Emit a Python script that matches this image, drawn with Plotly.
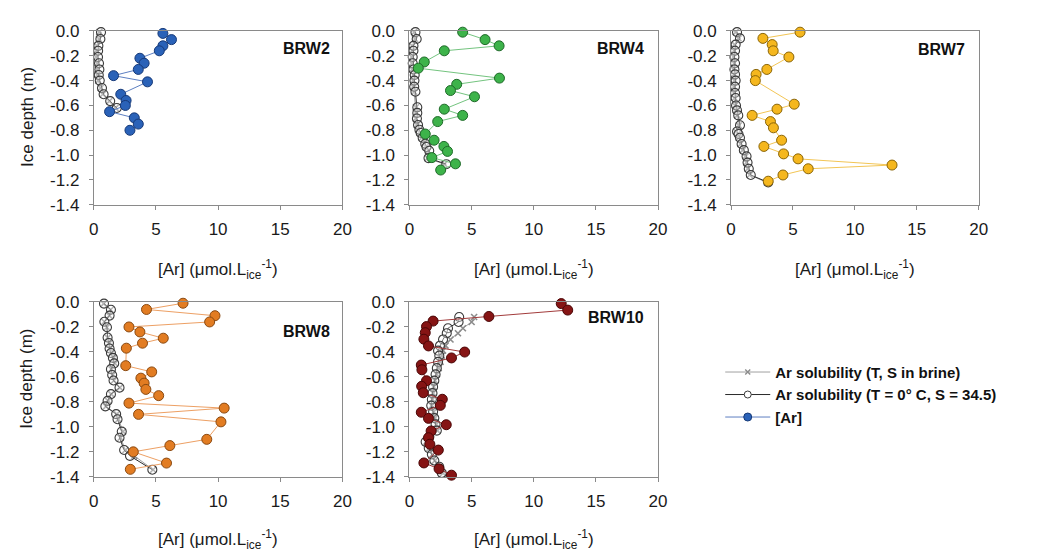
import plotly.graph_objects as go

# ---------------- data ----------------
panel_names = ["BRW2", "BRW4", "BRW7", "BRW8", "BRW10"]
x_ticks = [0, 5, 10, 15, 20]
y_ticks = [0.0, -0.2, -0.4, -0.6, -0.8, -1.0, -1.2, -1.4]
y_ticktext = ["0.0", "-0.2", "-0.4", "-0.6", "-0.8", "-1.0", "-1.2", "-1.4"]

# BRW2
ar_depth_2 = [-0.02, -0.07, -0.12, -0.16, -0.22, -0.26, -0.31, -0.36, -0.41, -0.51, -0.56, -0.60, -0.65, -0.70, -0.75, -0.80]
ar_2 = [5.56, 6.25, 5.56, 5.27, 3.71, 4.05, 3.58, 1.59, 4.32, 2.17, 2.60, 2.54, 1.27, 3.26, 3.58, 2.91]
sol_depth_2 = [-0.01, -0.065, -0.12, -0.16, -0.21, -0.26, -0.31, -0.355, -0.40, -0.46, -0.51, -0.565, -0.62]
sol0_2 = [0.58, 0.53, 0.37, 0.35, 0.34, 0.42, 0.45, 0.40, 0.48, 0.66, 0.79, 1.32, 1.85]
brine_2 = [0.45, 0.42, 0.25, 0.22, 0.20, 0.28, 0.30, 0.28, 0.35, 0.55, 0.72, 1.25, 1.75]

# BRW4
ar_depth_4 = [-0.01, -0.07, -0.12, -0.16, -0.25, -0.30, -0.38, -0.43, -0.48, -0.53, -0.63, -0.68, -0.73, -0.83, -0.88, -0.93, -0.97, -1.02, -1.07, -1.12]
ar_4 = [4.28, 6.08, 7.21, 2.80, 1.19, 0.71, 7.24, 3.80, 3.30, 5.23, 2.80, 4.28, 2.27, 1.27, 1.98, 2.77, 3.06, 1.80, 3.70, 2.51]
sol_depth_4 = [-0.01, -0.065, -0.12, -0.16, -0.21, -0.26, -0.31, -0.355, -0.40, -0.45, -0.49, -0.615, -0.66, -0.705, -0.757, -0.796, -0.822, -0.861, -0.908, -0.934, -0.965, -1.024, -1.073]
sol0_4 = [0.48, 0.58, 0.32, 0.32, 0.26, 0.26, 0.32, 0.42, 0.40, 0.38, 0.48, 0.63, 0.63, 0.60, 0.69, 0.80, 0.90, 1.06, 1.27, 1.37, 1.59, 1.53, 2.96]
brine_4 = [0.38, 0.45, 0.22, 0.22, 0.18, 0.18, 0.22, 0.32, 0.30, 0.30, 0.38, 0.52, 0.52, 0.50, 0.60, 0.70, 0.82, 0.98, 1.20, 1.30, 1.50, 1.45, 2.80]

# BRW7
ar_depth_7 = [-0.01, -0.06, -0.11, -0.16, -0.21, -0.31, -0.35, -0.40, -0.59, -0.63, -0.68, -0.73, -0.78, -0.88, -0.93, -0.99, -1.03, -1.08, -1.11, -1.16, -1.21]
ar_7 = [5.57, 2.57, 3.32, 3.40, 4.67, 2.89, 2.02, 1.96, 5.10, 3.71, 1.70, 3.18, 3.42, 4.08, 2.65, 4.24, 5.41, 13.0, 6.23, 4.19, 3.00]
sol_depth_7 = [-0.01, -0.06, -0.11, -0.16, -0.21, -0.26, -0.31, -0.35, -0.40, -0.45, -0.50, -0.54, -0.60, -0.64, -0.68, -0.76, -0.81, -0.83, -0.86, -0.91, -0.96, -1.01, -1.06, -1.11, -1.16, -1.22]
sol0_7 = [0.48, 0.72, 0.37, 0.32, 0.27, 0.32, 0.27, 0.32, 0.37, 0.32, 0.32, 0.37, 0.40, 0.48, 0.58, 0.72, 0.48, 0.60, 0.72, 0.85, 1.03, 1.25, 1.33, 1.43, 1.59, 3.00]
brine_7 = [0.38, 0.60, 0.28, 0.24, 0.20, 0.24, 0.20, 0.24, 0.28, 0.24, 0.24, 0.28, 0.32, 0.40, 0.50, 0.62, 0.40, 0.52, 0.62, 0.76, 0.94, 1.16, 1.24, 1.34, 1.50, 2.90]

# BRW8
ar_depth_8 = [-0.01, -0.06, -0.11, -0.16, -0.20, -0.24, -0.29, -0.33, -0.37, -0.51, -0.56, -0.61, -0.65, -0.70, -0.75, -0.81, -0.85, -0.90, -0.96, -1.10, -1.15, -1.20, -1.29, -1.34]
ar_8 = [7.18, 4.24, 9.75, 9.32, 2.83, 3.71, 5.59, 3.92, 2.62, 2.57, 4.66, 3.79, 4.05, 4.19, 5.22, 2.83, 10.49, 3.60, 10.23, 9.09, 6.12, 3.18, 5.85, 2.94]
sol_depth_8 = [-0.013, -0.062, -0.109, -0.158, -0.202, -0.285, -0.329, -0.373, -0.409, -0.448, -0.492, -0.538, -0.585, -0.629, -0.686, -0.738, -0.792, -0.836, -0.898, -0.939, -1.038, -1.087, -1.185, -1.232, -1.343]
sol0_8 = [0.82, 1.38, 1.27, 0.85, 1.06, 1.11, 1.22, 1.27, 1.38, 1.54, 1.64, 1.38, 1.48, 1.59, 2.07, 1.38, 1.11, 0.93, 1.80, 1.91, 2.25, 2.07, 2.44, 2.91, 4.71]
brine_8 = [0.80, 1.35, 1.25, 0.85, 1.05, 1.12, 1.25, 1.30, 1.42, 1.60, 1.70, 1.42, 1.52, 1.62, 2.10, 1.40, 1.15, 0.98, 1.85, 1.98, 2.35, 2.15, 2.55, 3.26, 4.77]

# BRW10
ar_depth_10 = [-0.013, -0.065, -0.116, -0.153, -0.197, -0.246, -0.298, -0.352, -0.401, -0.448, -0.505, -0.543, -0.631, -0.675, -0.727, -0.779, -0.828, -0.883, -0.932, -0.983, -1.033, -1.087, -1.139, -1.186, -1.289, -1.336, -1.387]
ar_10 = [12.21, 12.73, 6.39, 1.90, 1.37, 1.27, 1.16, 1.53, 4.44, 3.38, 0.95, 1.00, 1.37, 0.98, 1.11, 2.64, 2.48, 0.95, 1.53, 2.96, 1.74, 1.53, 1.64, 2.32, 1.16, 2.38, 3.38]
sol_depth_10 = [-0.12, -0.16, -0.21, -0.25, -0.30, -0.35, -0.39, -0.43, -0.48, -0.53, -0.58, -0.63, -0.68, -0.73, -0.78, -0.83, -0.88, -0.93, -0.98, -1.03, -1.08, -1.12, -1.17, -1.22, -1.27, -1.32, -1.37]
sol0_10 = [4.00, 3.95, 3.10, 3.00, 2.70, 2.45, 2.30, 2.40, 2.30, 2.20, 2.10, 2.00, 1.90, 1.85, 1.80, 1.75, 1.90, 2.00, 2.10, 2.20, 1.60, 1.30, 1.55, 1.80, 2.00, 2.40, 2.60]
brine_10 = [5.20, 5.00, 4.30, 3.90, 3.30, 2.90, 2.70, 2.60, 2.50, 2.35, 2.20, 2.05, 1.95, 1.90, 1.85, 1.80, 1.95, 2.05, 2.15, 2.25, 1.65, 1.35, 1.60, 1.85, 2.05, 2.45, 2.70]

ar_depths = [ar_depth_2, ar_depth_4, ar_depth_7, ar_depth_8, ar_depth_10]
ar_values = [ar_2, ar_4, ar_7, ar_8, ar_10]
sol_depths = [sol_depth_2, sol_depth_4, sol_depth_7, sol_depth_8, sol_depth_10]
sol0_values = [sol0_2, sol0_4, sol0_7, sol0_8, sol0_10]
brine_values = [brine_2, brine_4, brine_7, brine_8, brine_10]

legend_names = ["Ar solubility (T, S in brine)", "Ar solubility (T = 0° C, S = 34.5)", "[Ar]"]

# ---------------- style ----------------
W, H = 1039, 558
FONT = "Arial, 'Liberation Sans', sans-serif"
fill_colors = ["#2a62b8", "#3db34a", "#f5b71e", "#e27c22", "#861414"]
edge_colors = ["#173a78", "#1f6a29", "#8a6508", "#8a4a12", "#4a0606"]
line_colors = ["#5d7fc2", "#74c47f", "#f2c555", "#eda064", "#a23b3b"]

BRINE_LINE = dict(color="#a0a0a0", width=1)
SOL_LINE = dict(color="#2b2b2b", width=1)

# plot-area pixel boxes (left, right, top, bottom)
boxes = [
    (90, 342, 22.7, 202.7),
    (410, 662, 22.7, 202.7),
    (736, 987, 22.7, 202.7),
    (90, 342, 303.3, 484.3),
    (410, 662, 303.3, 484.3),
]
title_pos = [(331.5, 41), (650, 41), (975, 42), (331.5, 333.5), (650, 319)]


def px(x):
    return x / W


def py(y):
    return 1 - y / H


fig = go.Figure()
annotations = []
layout_axes = {}

for i in range(5):
    k = "" if i == 0 else str(i + 1)
    xa, ya = "x" + k, "y" + k
    fig.add_trace(go.Scatter(
        x=brine_values[i], y=sol_depths[i], xaxis=xa, yaxis=ya,
        mode="lines+markers", name=legend_names[0], showlegend=False,
        cliponaxis=False, line=BRINE_LINE,
        marker=dict(symbol="x-thin", size=6, color="#8c8c8c",
                    line=dict(color="#8c8c8c", width=1.6)),
    ))
    fig.add_trace(go.Scatter(
        x=sol0_values[i], y=sol_depths[i], xaxis=xa, yaxis=ya,
        mode="lines+markers", name=legend_names[1], showlegend=False,
        cliponaxis=False, line=SOL_LINE,
        marker=dict(symbol="circle", size=9, color="rgba(255,255,255,0.35)",
                    line=dict(color="#3a3a3a", width=1.1)),
    ))
    fig.add_trace(go.Scatter(
        x=ar_values[i], y=ar_depths[i], xaxis=xa, yaxis=ya,
        mode="lines+markers", name=legend_names[2], showlegend=False,
        cliponaxis=False,
        line=dict(color=line_colors[i], width=1),
        marker=dict(symbol="circle", size=10, color=fill_colors[i],
                    line=dict(color=edge_colors[i], width=1)),
    ))

    l, r, t, b = boxes[i]
    layout_axes["xaxis" + k] = dict(
        domain=[px(l), px(r)], anchor=ya, range=[0, 20],
        tickvals=x_ticks, ticks="outside", ticklen=4, tickcolor="#8a8a8a",
        showline=True, linecolor="#8a8a8a", linewidth=1, mirror=True,
        showgrid=False, zeroline=False, ticklabelstandoff=5,
        tickfont=dict(family=FONT, size=17, color="#1a1a1a"),
    )
    layout_axes["yaxis" + k] = dict(
        domain=[py(b), py(t)], anchor=xa, range=[-1.4, 0],
        tickvals=y_ticks, ticktext=y_ticktext, ticks="outside", ticklen=4,
        tickcolor="#8a8a8a", showline=True, linecolor="#8a8a8a", linewidth=1,
        mirror=True, showgrid=False, zeroline=False, ticklabelstandoff=6,
        tickfont=dict(family=FONT, size=17, color="#1a1a1a"),
    )

    tx, ty = title_pos[i]
    annotations.append(dict(
        text="<b>" + panel_names[i] + "</b>", xref="paper", yref="paper",
        x=px(tx), y=py(ty), xanchor="right", yanchor="middle", showarrow=False,
        font=dict(family=FONT, size=16, color="#111111"),
    ))
    xt_y = 270 if i < 3 else 549
    annotations.append(dict(
        text="[Ar] (μmol.L<sub>ice</sub><sup>-1</sup>)", xref="paper", yref="paper",
        x=px((l + r) / 2), y=py(xt_y), xanchor="center", yanchor="middle",
        showarrow=False, font=dict(family=FONT, size=17, color="#1a1a1a"),
    ))

# legend-only entries (smaller symbols, as in the reference legend)
fig.add_trace(go.Scatter(
    x=[None], y=[None], mode="lines+markers", name=legend_names[0],
    line=BRINE_LINE,
    marker=dict(symbol="x-thin", size=5, color="#8c8c8c",
                line=dict(color="#8c8c8c", width=1.4)),
))
fig.add_trace(go.Scatter(
    x=[None], y=[None], mode="lines+markers", name=legend_names[1],
    line=SOL_LINE,
    marker=dict(symbol="circle", size=7, color="white",
                line=dict(color="#3a3a3a", width=1)),
))
fig.add_trace(go.Scatter(
    x=[None], y=[None], mode="lines+markers", name=legend_names[2],
    line=dict(color=line_colors[0], width=1),
    marker=dict(symbol="circle", size=8, color=fill_colors[0],
                line=dict(color=edge_colors[0], width=1)),
))

for yc in (112, 383):
    annotations.append(dict(
        text="Ice depth (m)", xref="paper", yref="paper", x=px(22), y=py(yc),
        xanchor="center", yanchor="middle", textangle=-90, showarrow=False,
        font=dict(family=FONT, size=17, color="#1a1a1a"),
    ))

fig.update_layout(
    width=W, height=H,
    margin=dict(l=0, r=0, t=0, b=0),
    paper_bgcolor="white", plot_bgcolor="white",
    font=dict(family=FONT, color="#1a1a1a"),
    showlegend=True,
    legend=dict(
        x=px(725), y=py(359), xanchor="left", yanchor="top",
        font=dict(family=FONT, size=15, color="#111111", weight="bold"),
        bgcolor="rgba(0,0,0,0)", itemwidth=45, tracegroupgap=0,
    ),
    annotations=annotations,
    **layout_axes,
)

fig.write_html("out.html", config={"displayModeBar": False},
               post_script="document.body.style.margin='0';")
